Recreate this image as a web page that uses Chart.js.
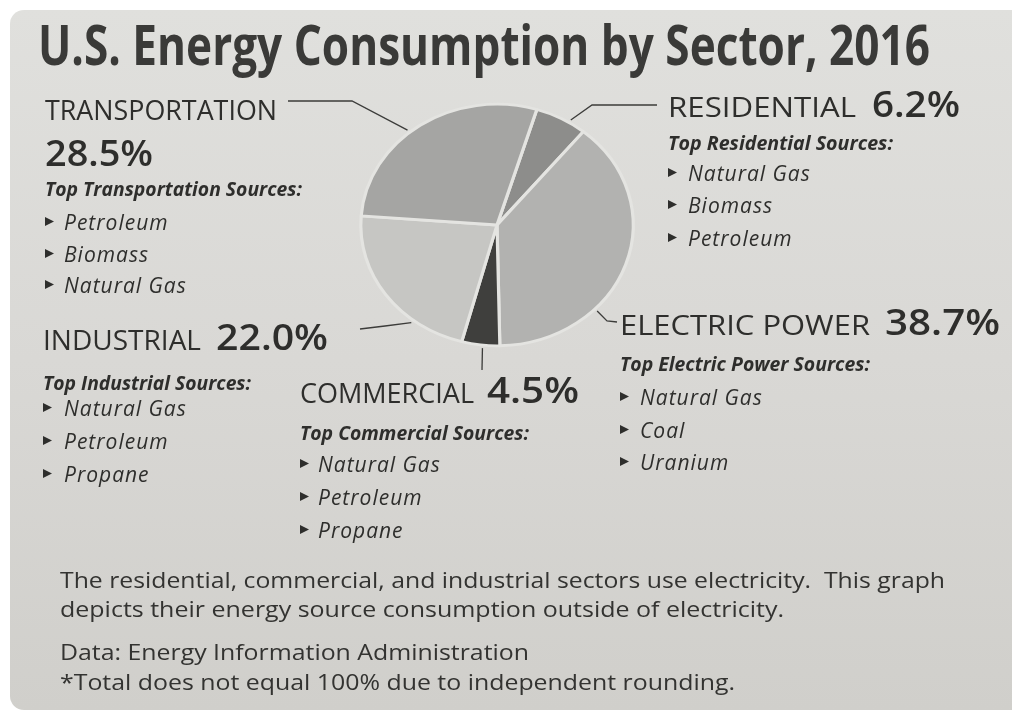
<!DOCTYPE html>
<html>
<head>
<meta charset="utf-8">
<script src="https://cdn.jsdelivr.net/npm/chart.js@4.4.1/dist/chart.umd.min.js"></script>
<style>
    html, body { margin: 0; padding: 0; background: #fff; }
    #card {
        position: absolute; left: 10px; top: 10px; width: 1010px; height: 700px;
        border-radius: 14px 0 0 14px;
        background: linear-gradient(180deg, #e0e0dd 0%, #d9d8d5 50%, #d0cfcb 100%);
    }
    #wrap { position: absolute; left: 0; top: 0; width: 1012px; height: 712px; }
</style>
</head>
<body>
<div id="card"></div>
<div id="wrap"><canvas id="chart-energy"></canvas></div>
<script>
// U.S. energy consumption by sector, 2016 (pie, clockwise from the top)
const sectors = ['Residential', 'Electric Power', 'Commercial', 'Industrial', 'Transportation'];
const shares = [6.2, 38.7, 4.5, 22.0, 28.5];
const topSources = [
    ['Natural Gas', 'Biomass', 'Petroleum'],
    ['Natural Gas', 'Coal', 'Uranium'],
    ['Natural Gas', 'Petroleum', 'Propane'],
    ['Natural Gas', 'Petroleum', 'Propane'],
    ['Petroleum', 'Biomass', 'Natural Gas'],
];
const sliceColors = ['#8d8d8b', '#b2b2b0', '#3f3f3d', '#c6c6c3', '#a5a5a3'];

const titleText = 'U.S. Energy Consumption by Sector, 2016';
const noteLines = [
    'The residential, commercial, and industrial sectors use electricity.  This graph',
    'depicts their energy source consumption outside of electricity.',
    'Data: Energy Information Administration',
    '*Total does not equal 100% due to independent rounding.',
];

// label blocks: name/pct positions, sub-heading, bullets, leader line (touch angle on the pie)
const blocks = [
    { x: 668, nameW: 188, pctX: 872, pctW: 88, nameY: 117, subY: 150, subW: 225, bulletX: 688, bulletY: [181, 213, 246],
      touch: 32, leader: [[592, 105], [657, 105]] },
    { x: 620, nameW: 250, pctX: 885, pctW: 115, nameY: 335, subY: 371, subW: 250, bulletX: 640, bulletY: [405, 438, 470],
      touch: 134, leader: [[607, 321], [617, 322]] },
    { x: 300, nameW: 174, pctX: 487, pctW: 92, nameY: 403, subY: 440, subW: 229, bulletX: 318, bulletY: [472, 505, 538],
      touch: 186, leader: [[482, 370]] },
    { x: 43, nameW: 158, pctX: 216, pctW: 112, nameY: 350, subY: 390, subW: 208, bulletX: 64, bulletY: [416, 449, 482],
      touch: 218, leader: [[385, 326], [360, 329]] },
    { x: 45, nameW: 232, pctX: 45, pctW: 108, pctY: 166, nameY: 120, subY: 196, subW: 257, bulletX: 64, bulletY: [230, 262, 293],
      touch: 320, leader: [[352, 101], [288, 101]] },
];

const INK = '#2e2e2c';
const SANS = '"Open Sans", "DejaVu Sans", sans-serif';

function fitText(c, text, x, y, font, width) {
    c.font = font;
    const w = c.measureText(text).width;
    c.save();
    c.translate(x, y);
    c.scale(width / w, 1);
    c.fillText(text, 0, 0);
    c.restore();
}

// squash the round pie into the slightly oval shape of the photographed card
const ovalPlugin = {
    id: 'ovalPie',
    beforeDatasetsDraw(chart) {
        const arc = chart.getDatasetMeta(0).data[0];
        if (!arc) return;
        const c = chart.ctx;
        c.save();
        c.translate(arc.x, arc.y);
        c.scale(1.06, 0.94);
        c.translate(-arc.x, -arc.y);
    },
    afterDatasetsDraw(chart) {
        chart.ctx.restore();
    },
};

const textPlugin = {
    id: 'energyText',
    afterDraw(chart) {
        const c = chart.ctx;
        const arc = chart.getDatasetMeta(0).data[0];
        const rx = arc.outerRadius * 1.06;
        const ry = arc.outerRadius * 0.94;
        c.save();
        c.textBaseline = 'alphabetic';
        c.fillStyle = '#3a3a38';
        fitText(c, titleText, 38, 65, `bold 56px ${SANS}`, 892);

        c.fillStyle = INK;
        sectors.forEach((name, i) => {
            const b = blocks[i];
            fitText(c, name.toUpperCase(), b.x, b.nameY, `28px ${SANS}`, b.nameW);
            fitText(c, `${shares[i].toFixed(1)}%`, b.pctX, b.pctY || b.nameY, `600 36px ${SANS}`, b.pctW);
            fitText(c, `Top ${name} Sources:`, b.x, b.subY, `italic bold 20px ${SANS}`, b.subW);

            c.font = `italic 21px ${SANS}`;
            c.letterSpacing = '1px';
            topSources[i].forEach((src, k) => {
                const y = b.bulletY[k];
                c.beginPath();
                c.moveTo(b.x, y - 13);
                c.lineTo(b.x + 9, y - 8.5);
                c.lineTo(b.x, y - 4);
                c.closePath();
                c.fill();
                c.fillText(src, b.bulletX, y);
            });
            c.letterSpacing = '0px';

            // leader from the pie edge out to the label
            const a = (b.touch - 90) * Math.PI / 180;
            c.beginPath();
            c.strokeStyle = '#3c3c3a';
            c.lineWidth = 1.3;
            c.moveTo(arc.x + Math.cos(a) * (rx + 3), arc.y + Math.sin(a) * (ry + 3));
            b.leader.forEach(p => c.lineTo(p[0], p[1]));
            c.stroke();
        });

        c.fillStyle = '#333331';
        const noteY = [588, 617, 660, 690];
        const noteW = [885, 724, 469, 675];
        noteLines.forEach((t, i) => fitText(c, t, 60, noteY[i], `22px ${SANS}`, noteW[i]));
        c.restore();
    },
};

new Chart(document.getElementById('chart-energy'), {
    type: 'pie',
    data: {
        labels: sectors,
        datasets: [{
            data: shares,
            backgroundColor: sliceColors,
            borderColor: '#e4e4e1',
            borderWidth: 3,
        }],
    },
    plugins: [ovalPlugin, textPlugin],
    options: {
        responsive: true,
        maintainAspectRatio: false,
        animation: false,
        rotation: 17,
        layout: { padding: { left: 367, right: 385, top: 95, bottom: 357 } },
        plugins: {
            legend: { display: false },
            tooltip: { enabled: false },
        },
    },
});
</script>
</body>
</html>
